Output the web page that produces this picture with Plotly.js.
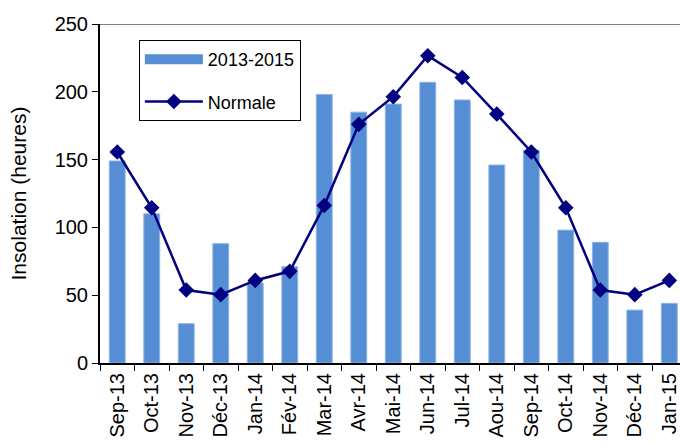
<!DOCTYPE html>
<html>
<head>
<meta charset="utf-8">
<script src="https://cdn.plot.ly/plotly-3.0.1.min.js"></script>
<style>html,body{margin:0;padding:0;background:#fff;}#chart{width:680px;height:445px;}</style>
</head>
<body>
<div id="chart"></div>
<script>
const months = ["Sep-13","Oct-13","Nov-13","Déc-13","Jan-14","Fév-14","Mar-14","Avr-14","Mai-14","Jun-14","Jul-14","Aou-14","Sep-14","Oct-14","Nov-14","Déc-14","Jan-15"];
const insolation20132015 = [149,110,29,88,59,71,198,185,191,207,194,146,157,98,89,39,44];
const normale = [155.6,114.5,53.8,50.4,60.9,67.6,116.2,176,196.4,226.6,210.6,183.6,155.6,114.5,53.8,50.4,60.9];
const yTicks = [0,50,100,150,200,250];

const font = "Liberation Sans, Arial, sans-serif";
const barColor = "#558ed5";

const traces = [
  {
    type: "bar",
    name: "2013-2015",
    x: months,
    y: insolation20132015,
    width: 0.46,
    marker: {color: barColor, line: {color: "#8fb4e3", width: 1}},
    showlegend: false
  },
  {
    // legend entry for the bars (wide rectangle swatch, as in the original)
    type: "scatter",
    mode: "lines",
    name: "2013-2015",
    x: [null],
    y: [null],
    line: {color: barColor, width: 12},
    legendgroup: "a",
    hoverinfo: "skip"
  },
  {
    type: "scatter",
    mode: "lines+markers",
    name: "Normale",
    x: months,
    y: normale,
    line: {color: "#000080", width: 2.5},
    marker: {symbol: "diamond", size: 12, color: "#000080"},
    legendgroup: "b"
  }
];

const layout = {
  width: 680,
  height: 445,
  margin: {l: 100, r: 0, t: 24, b: 82, pad: 0},
  paper_bgcolor: "#fff",
  plot_bgcolor: "#fff",
  font: {family: font, size: 20, color: "#000"},
  showlegend: true,
  legend: {
    x: 0.067, y: 0.953, xanchor: "left", yanchor: "top",
    bordercolor: "#000", borderwidth: 1, bgcolor: "#fff",
    font: {family: font, size: 18, color: "#000"},
    traceorder: "grouped", tracegroupgap: 16, itemwidth: 58
  },
  xaxis: {
    type: "category",
    range: [-0.5, 16.31],
    showline: true, linecolor: "#000", linewidth: 2,
    ticks: "outside", tickson: "boundaries", ticklen: 6, tickcolor: "#000", tickwidth: 1,
    tickangle: -90,
    tickfont: {family: font, size: 20, color: "#000"},
    showgrid: false, zeroline: false, fixedrange: true
  },
  yaxis: {
    range: [0, 250],
    tickvals: yTicks,
    ticktext: yTicks.map(String),
    showline: true, linecolor: "#000", linewidth: 2,
    ticks: "outside", ticklen: 6, tickcolor: "#000", tickwidth: 1,
    tickfont: {family: font, size: 20, color: "#000"},
    showgrid: false, zeroline: false,
    title: {text: "Insolation (heures)", font: {family: font, size: 21, color: "#000"}, standoff: 22},
    fixedrange: true
  },
  shapes: [
    {type: "line", xref: "paper", yref: "y", x0: 0, x1: 1, y0: 250, y1: 250, line: {color: "#808080", width: 2}, layer: "above"}
  ],
  bargap: 0.54
};

Plotly.newPlot("chart", traces, layout, {displayModeBar: false, staticPlot: true});
</script>
</body>
</html>
